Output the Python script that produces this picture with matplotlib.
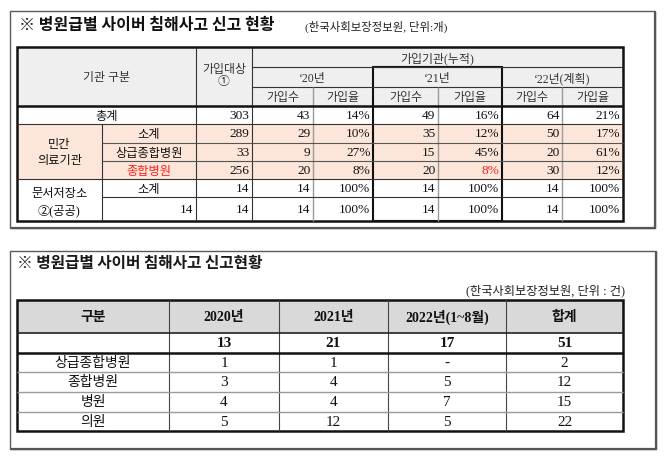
import matplotlib
matplotlib.use("Agg")
import matplotlib.pyplot as plt
from matplotlib.patches import Rectangle

plt.rcParams['font.family'] = ['Liberation Serif', 'Noto Sans CJK KR', 'DejaVu Sans']

# ---------------- data: table 1 ----------------
t1_title = "※ 병원급별 사이버 침해사고 신고 현황"
t1_source = "(한국사회보장정보원, 단위:개)"
t1_head_left = "기관 구분"
t1_head_target = "가입대상\n①"
t1_head_group = "가입기관(누적)"
t1_years = ["‘20년", "‘21년", "‘22년(계획)"]
t1_subhead = ["가입수", "가입율"]
t1_groups = ["민간\n의료기관", "문서저장소\n②(공공)"]
t1_total_label = "총계"
t1_rows = ["소계", "상급종합병원", "종합병원", "소계", "14"]
t1_target = [303, 289, 33, 256, 14, 14]
t1_count_20 = [43, 29, 9, 20, 14, 14]
t1_rate_20 = [14, 10, 27, 8, 100, 100]
t1_count_21 = [49, 35, 15, 20, 14, 14]
t1_rate_21 = [16, 12, 45, 8, 100, 100]
t1_count_22 = [64, 50, 20, 30, 14, 14]
t1_rate_22 = [21, 17, 61, 12, 100, 100]

# ---------------- data: table 2 ----------------
t2_title = "※ 병원급별 사이버 침해사고 신고현황"
t2_source = "(한국사회보장정보원, 단위 : 건)"
t2_header = ["구분", "2020년", "2021년", "2022년(1~8월)", "합계"]
t2_rows = ["", "상급종합병원", "종합병원", "병원", "의원"]
t2_2020 = [13, 1, 3, 4, 5]
t2_2021 = [21, 1, 4, 4, 12]
t2_2022 = [17, None, 5, 7, 5]
t2_total = [51, 2, 12, 15, 22]

# ---------------- layout ----------------
fig = plt.figure(figsize=(6.7, 4.65), dpi=100)
ax = fig.add_axes([0, 0, 1, 1])
ax.set_xlim(0, 670)
ax.set_ylim(465, 0)
ax.axis('off')

DARK = '#333333'
GRAY = '#9a9a9a'
RED = '#ff2020'
KY = 1.6  # vertical nudge for Korean glyphs


def hline(y, x0, x1, color=DARK, lw=0.8):
    ax.plot([x0, x1], [y, y], color=color, lw=lw, solid_capstyle='butt')


def vline(x, y0, y1, color=DARK, lw=0.8):
    ax.plot([x, x], [y0, y1], color=color, lw=lw, solid_capstyle='butt')


def frame(x0, y0, x1, y1):
    ax.add_patch(Rectangle((x0, y0), x1 - x0, y1 - y0, fill=False,
                           ec='#5a5a5a', lw=1.0))
    vline(x1, y0 + 1, y1 + 1, color='#555555', lw=1.6)
    hline(y1, x0 + 1, x1 + 1, color='#555555', lw=1.6)


# ================= TABLE 1 =================
frame(9.5, 11, 655, 228)
ax.text(19, 25, t1_title, fontsize=11.5, fontweight='bold',
        family=['Noto Sans CJK KR'], va='center', ha='left', color='#111111')
ax.text(305, 26.5, t1_source, fontsize=8.2, va='center', ha='left', color='#222222')

X = [17, 102, 196, 252, 313, 373, 438, 502, 562, 623]
HY = [47, 67, 87, 106]
BY = [106, 124, 143, 161, 179, 197, 221]

# backgrounds
ax.add_patch(Rectangle((X[0], HY[0]), X[-1] - X[0], HY[-1] - HY[0],
                       fc='#efefef', ec='none'))
ax.add_patch(Rectangle((X[0], BY[1]), X[-1] - X[0], BY[4] - BY[1],
                       fc='#fce6da', ec='none'))

HFS = 8.6
# header text
ax.text((X[0] + X[2]) / 2, (HY[0] + HY[3]) / 2 + KY, t1_head_left, fontsize=HFS,
        ha='center', va='center', color=DARK)
ax.text((X[2] + X[3]) / 2, 76, t1_head_target, fontsize=HFS, ha='center',
        va='center', color=DARK, linespacing=1.05)
ax.text((X[3] + X[9]) / 2, (HY[0] + HY[1]) / 2 + KY, t1_head_group, fontsize=HFS,
        ha='center', va='center', color=DARK)
year_edges = [(X[3], X[5]), (X[5], X[7]), (X[7], X[9])]
for (a, b), yl in zip(year_edges, t1_years):
    ax.text((a + b) / 2, (HY[1] + HY[2]) / 2 + KY, yl, fontsize=HFS, ha='center',
            va='center', color=DARK)
for i in range(6):
    ax.text((X[3 + i] + X[4 + i]) / 2, (HY[2] + HY[3]) / 2 + KY, t1_subhead[i % 2],
            fontsize=HFS, ha='center', va='center', color=DARK)

# body
FS = 8.8
cy = [(BY[i] + BY[i + 1]) / 2 for i in range(6)]
ax.text((X[0] + X[2]) / 2, cy[0] + KY, t1_total_label, fontsize=FS, ha='center',
        va='center', color='#111111')
ax.text((X[0] + X[1]) / 2, (BY[1] + BY[4]) / 2 + KY, t1_groups[0], fontsize=FS,
        ha='center', va='center', linespacing=1.5, color='#111111')
ax.text((X[0] + X[1]) / 2, (BY[4] + BY[6]) / 2 + 1 + KY, t1_groups[1], fontsize=FS,
        ha='center', va='center', linespacing=1.5, color='#111111')
for i, lab in enumerate(t1_rows):
    r = i + 1
    col = RED if lab == "종합병원" else '#111111'
    if lab.isdigit():
        ax.text(X[2] - 3, cy[r] + 0.5, lab, fontsize=FS + 0.8, ha='right',
                va='center', color='#111111')
    else:
        ax.text((X[1] + X[2]) / 2, cy[r] + KY, lab, fontsize=FS, ha='center',
                va='center', color=col)

series = [t1_target, t1_count_20, t1_rate_20, t1_count_21, t1_rate_21,
          t1_count_22, t1_rate_22]
for c, vals in enumerate(series):
    for r, v in enumerate(vals):
        txt = f"{v}%" if c in (2, 4, 6) else f"{v}"
        col = RED if (c == 4 and r == 3) else '#111111'
        ax.text(X[3 + c] - 2.5, cy[r] + 0.5, txt, fontsize=FS + 0.8, ha='right',
                va='center', color=col)

# lines table 1
hline(HY[1], X[3], X[9])
hline(HY[2], X[3], X[9])
for x in (X[2], X[3]):
    vline(x, HY[0], BY[6])
for x in (X[4], X[6], X[8]):
    vline(x, HY[2], BY[6], color=GRAY, lw=1.0)
vline(X[1], BY[1], BY[6])
hline(BY[1], X[0], X[9])
hline(BY[2], X[1], X[9], color='#555555')
hline(BY[3], X[1], X[9], color='#555555')
hline(BY[4], X[0], X[9])
hline(BY[5], X[1], X[9])
hline(HY[3], X[0], X[9], color='#111111', lw=1.8)
# bold box around '21
ax.add_patch(Rectangle((X[5], HY[1]), X[7] - X[5], BY[6] - HY[1], fill=False,
                       ec='#111111', lw=1.5))
ax.add_patch(Rectangle((X[0], HY[0]), X[9] - X[0], BY[6] - HY[0], fill=False,
                       ec='#111111', lw=1.8))

# ================= TABLE 2 =================
frame(9.5, 251, 656, 449)
ax.text(17, 263, t2_title, fontsize=11.3, fontweight='bold',
        family=['Noto Sans CJK KR'], va='center', ha='left', color='#1a1a1a')
ax.text(625, 291, t2_source, fontsize=8.8, va='center', ha='right',
        color='#222222')

X2 = [17, 169, 279, 388, 506, 623]
Y2 = [300, 333, 353, 372, 392, 412, 431]

ax.add_patch(Rectangle((X2[0], Y2[0]), X2[-1] - X2[0], Y2[1] - Y2[0],
                       fc='#d9d9d9', ec='none'))
for i, h in enumerate(t2_header):
    ax.text((X2[i] + X2[i + 1]) / 2, (Y2[0] + Y2[1]) / 2 + 1, h, fontsize=10,
            fontweight='bold', ha='center', va='center', color='#111111')

cols2 = [t2_2020, t2_2021, t2_2022, t2_total]
for r in range(len(t2_rows)):
    yc = (Y2[r + 1] + Y2[r + 2]) / 2
    bold = 'bold' if r == 0 else 'normal'
    if t2_rows[r]:
        ax.text((X2[0] + X2[1]) / 2, yc + 0.5, t2_rows[r], fontsize=10, ha='center',
                va='center', color='#111111')
    for c, vals in enumerate(cols2):
        v = vals[r]
        txt = "-" if v is None else str(v)
        ax.text((X2[c + 1] + X2[c + 2]) / 2, yc + 0.5, txt, fontsize=11,
                fontweight=bold, ha='center', va='center', color='#111111')

# lines table 2
for x in X2[1:-1]:
    vline(x, Y2[0], Y2[-1], color='#444444')
hline(Y2[1], X2[0], X2[-1], color='#222222', lw=1.2)
hline(Y2[2], X2[0], X2[-1], color='#111111', lw=1.8)
for y in Y2[3:-1]:
    hline(y, X2[0], X2[-1], color=GRAY, lw=1.0)
ax.add_patch(Rectangle((X2[0], Y2[0]), X2[-1] - X2[0], Y2[-1] - Y2[0],
                       fill=False, ec='#111111', lw=1.8))

fig.savefig("out.png", dpi=100)
